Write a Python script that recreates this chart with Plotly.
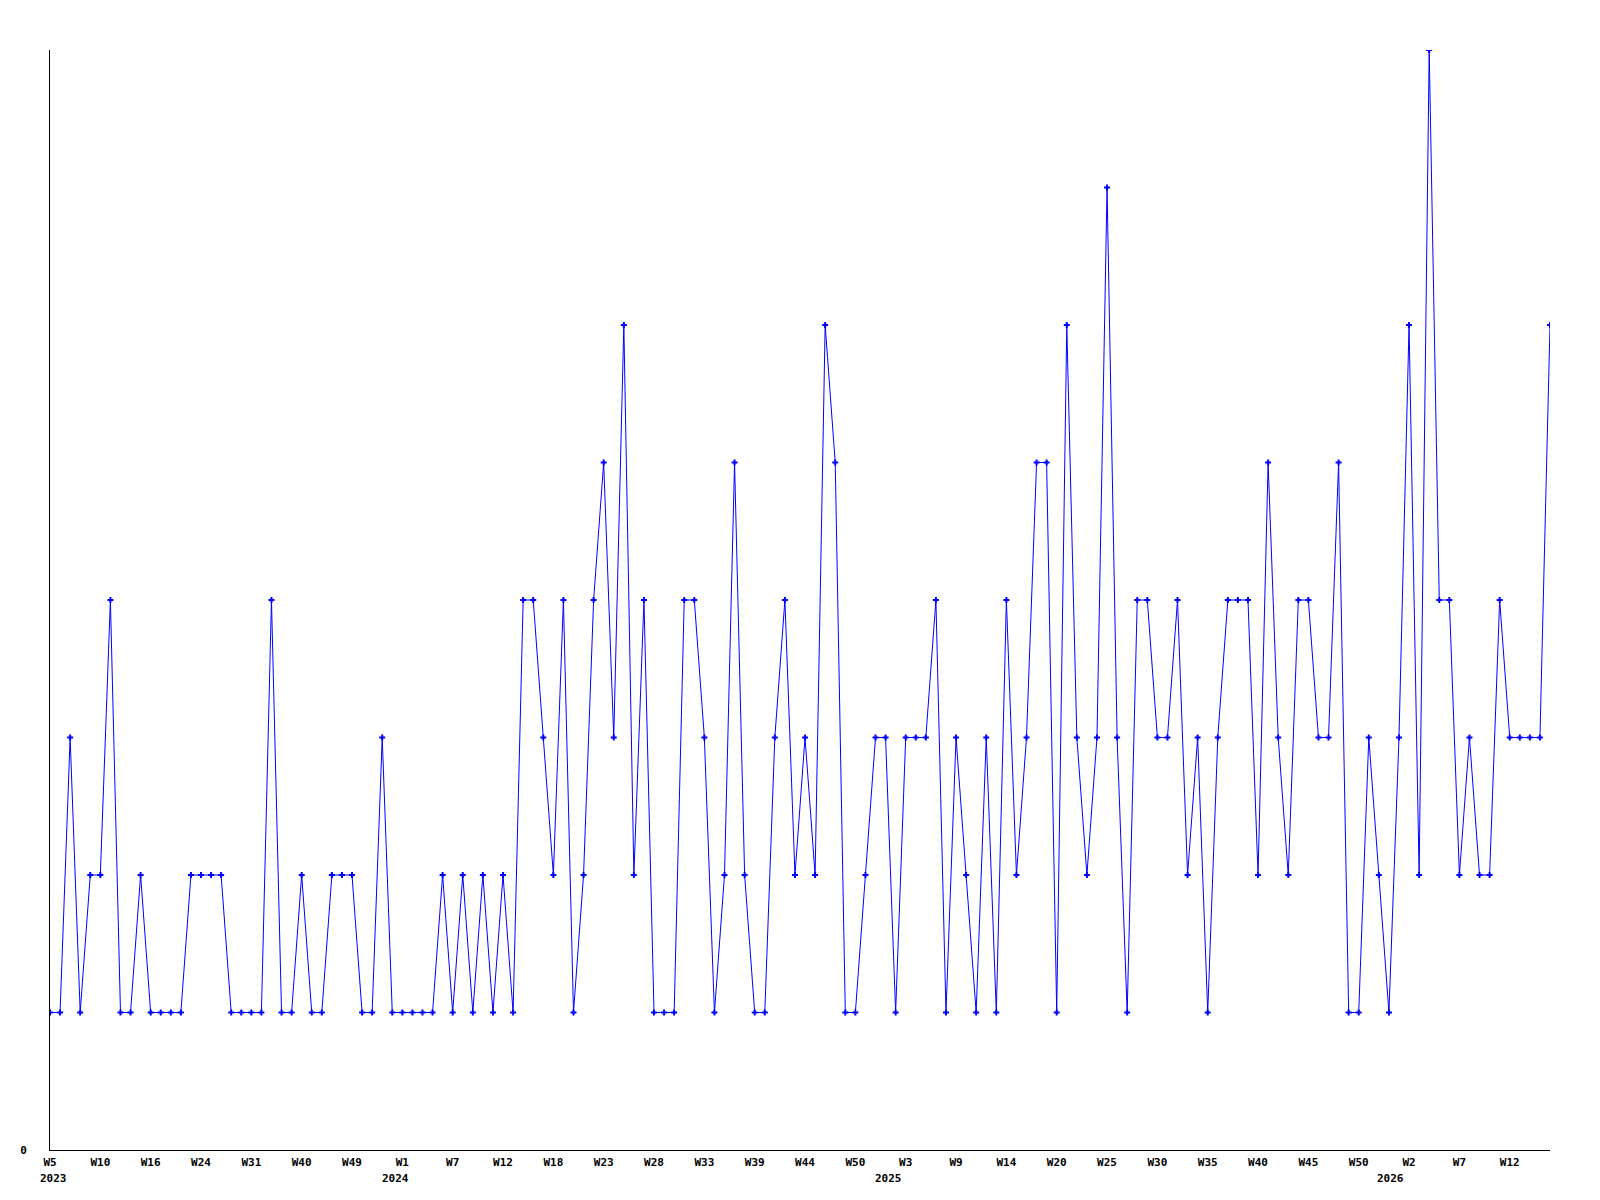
import plotly.graph_objects as go

# Weekly counts, one value per plotted week (in order)
values = [
    1, 1, 3, 1, 2, 2, 4, 1, 1, 2,
    1, 1, 1, 1, 2, 2, 2, 2, 1, 1,
    1, 1, 4, 1, 1, 2, 1, 1, 2, 2,
    2, 1, 1, 3, 1, 1, 1, 1, 1, 2,
    1, 2, 1, 2, 1, 2, 1, 4, 4, 3,
    2, 4, 1, 2, 4, 5, 3, 6, 2, 4,
    1, 1, 1, 4, 4, 3, 1, 2, 5, 2,
    1, 1, 3, 4, 2, 3, 2, 6, 5, 1,
    1, 2, 3, 3, 1, 3, 3, 3, 4, 1,
    3, 2, 1, 3, 1, 4, 2, 3, 5, 5,
    1, 6, 3, 2, 3, 7, 3, 1, 4, 4,
    3, 3, 4, 2, 3, 1, 3, 4, 4, 4,
    2, 5, 3, 2, 4, 4, 3, 3, 5, 1,
    1, 3, 2, 1, 3, 6, 2, 8, 4, 4,
    2, 3, 2, 2, 4, 3, 3, 3, 3, 6,
]

# Week tick labels, one every 5 plotted weeks
week_labels = [
    "W5", "W10", "W16", "W24", "W31", "W40", "W49",
    "W1", "W7", "W12", "W18", "W23", "W28", "W33", "W39", "W44", "W50",
    "W3", "W9", "W14", "W20", "W25", "W30", "W35", "W40", "W45", "W50",
    "W2", "W7", "W12",
]
tick_every = 5

# Year labels and where each year begins along the week axis
year_labels = ["2023", "2024", "2025", "2026"]
year_starts = [0.3, 34.3, 83.3, 133.2]

x = list(range(len(values)))
tickvals = [k * tick_every for k in range(len(week_labels))]

font = dict(family="DejaVu Sans Mono", size=11, color="black", weight="bold")

fig = go.Figure()
fig.add_trace(
    go.Scatter(
        x=x,
        y=values,
        mode="lines+markers",
        line=dict(color="#0000ff", width=1),
        marker=dict(color="#0000ff", symbol="cross", size=5),
        hoverinfo="skip",
    )
)

for label, pos in zip(year_labels, year_starts):
    fig.add_annotation(
        x=pos, xref="x",
        y=0, yref="paper",
        yanchor="top", xanchor="center",
        yshift=-20,
        text=label,
        showarrow=False,
        font=font,
    )

fig.update_layout(
    width=1592,
    height=1192,
    margin=dict(l=42, r=50, t=42, b=50, pad=0),
    paper_bgcolor="white",
    plot_bgcolor="white",
    showlegend=False,
    font=font,
)
fig.update_xaxes(
    range=[0, len(values) - 1],
    tickmode="array",
    tickvals=tickvals,
    ticktext=week_labels,
    ticks="",
    ticklabelstandoff=2,
    showgrid=False,
    zeroline=False,
    showline=True,
    linecolor="black",
    linewidth=1,
    tickfont=font,
)
fig.update_yaxes(
    range=[0, max(values)],
    tickmode="array",
    tickvals=[0],
    ticktext=["0"],
    ticks="",
    ticklabelstandoff=20,
    showgrid=False,
    zeroline=False,
    showline=True,
    linecolor="black",
    linewidth=1,
    tickfont=font,
)

fig.write_html("out.html", config={"displayModeBar": False})
